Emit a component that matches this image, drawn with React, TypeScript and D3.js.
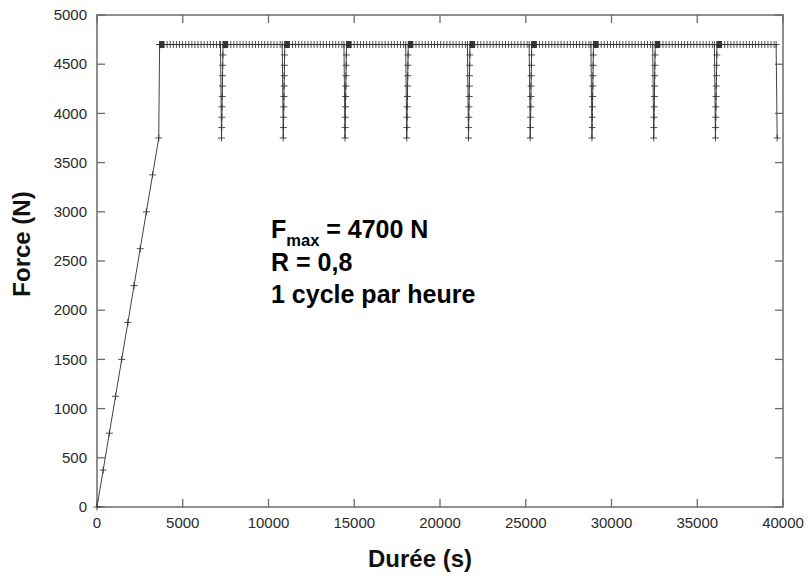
import React from "react";
import * as d3 from "d3";

// ---- data ----
const rampTimes = [0, 360, 720, 1080, 1440, 1800, 2160, 2520, 2880, 3240, 3600];
const rampForces = [0, 375, 750, 1125, 1500, 1875, 2250, 2625, 3000, 3375, 3750];
const firstHoldStart = 3650;
const unloadTimes = [7200, 10800, 14400, 18000, 21600, 25200, 28800, 32400, 36000, 39600];
const reloadForces = [3750, 3856, 3961, 4067, 4172, 4278, 4383, 4489, 4594, 4700];
const F_MAX = 4700;
const F_MIN = 3750;
const unloadDuration = 60; // s
const reloadStep = 10; // s between reload readings
const denseStep = 20; // s, dense readings just after reaching F_MAX
const denseDuration = 260; // s
const plateauStep = 180; // s, regular readings during the hold

const xTicks = [0, 5000, 10000, 15000, 20000, 25000, 30000, 35000, 40000];
const yTicks = [0, 500, 1000, 1500, 2000, 2500, 3000, 3500, 4000, 4500, 5000];

type P = [number, number];

function buildSeries(): P[] {
  const pts: P[] = [];
  rampTimes.forEach((t, i) => pts.push([t, rampForces[i]]));
  let hs = firstHoldStart;
  unloadTimes.forEach((u, idx) => {
    for (let t = hs; t < hs + denseDuration; t += denseStep) pts.push([t, F_MAX]);
    for (let t = hs + denseDuration; t < u; t += plateauStep) pts.push([t, F_MAX]);
    pts.push([u, F_MAX]);
    const bottom = u + unloadDuration;
    pts.push([bottom, F_MIN]);
    if (idx < unloadTimes.length - 1) {
      reloadForces.slice(1).forEach((f, j) => pts.push([bottom + (j + 1) * reloadStep, f]));
      hs = bottom + reloadForces.length * reloadStep;
    }
  });
  return pts;
}

const W = 811;
const H = 579;
const left = 97, right = 783, top = 15, bottom = 507;
const FONT = "'Liberation Sans', Arial, Helvetica, sans-serif";

export default function App() {
  const x = d3.scaleLinear().domain([0, 40000]).range([left, right]);
  const y = d3.scaleLinear().domain([0, 5000]).range([bottom, top]);
  const data = buildSeries();
  const line = d3
    .line<P>()
    .x((d) => x(d[0]))
    .y((d) => y(d[1]));

  const axisColor = "#6b6b6b";
  const tickLen = 8;
  const labelColor = "#2a2a2a";

  return (
    <svg
      width={W}
      height={H}
      style={{ position: "absolute", left: 0, top: 0, background: "#fff" }}
      fontFamily={FONT}
    >
      <rect x={0} y={0} width={W} height={H} fill="#fff" />
      {/* ticks */}
      <g stroke={axisColor} strokeWidth={1.3}>
        {xTicks.map((t) => (
          <g key={"xt" + t}>
            <line x1={x(t)} x2={x(t)} y1={bottom} y2={bottom - tickLen} />
            <line x1={x(t)} x2={x(t)} y1={top} y2={top + tickLen} />
          </g>
        ))}
        {yTicks.map((t) => (
          <g key={"yt" + t}>
            <line x1={left} x2={left + tickLen} y1={y(t)} y2={y(t)} />
            <line x1={right} x2={right - tickLen} y1={y(t)} y2={y(t)} />
          </g>
        ))}
      </g>
      <rect
        x={left}
        y={top}
        width={right - left}
        height={bottom - top}
        fill="none"
        stroke={axisColor}
        strokeWidth={1.5}
      />
      {/* tick labels */}
      <g fontSize={15} fill={labelColor}>
        {xTicks.map((t) => (
          <text key={"xl" + t} x={x(t)} y={528} textAnchor="middle">
            {t}
          </text>
        ))}
        {yTicks.map((t) => (
          <text key={"yl" + t} x={left - 10} y={y(t)} dy="0.35em" textAnchor="end">
            {t}
          </text>
        ))}
      </g>
      {/* data line */}
      <path d={line(data) || ""} fill="none" stroke="#444" strokeWidth={1} />
      <g stroke="#333" strokeWidth={1}>
        {data.map((d, i) => {
          const cx = x(d[0]);
          const cy = y(d[1]);
          return (
            <path
              key={i}
              d={`M${cx - 3.5},${cy}H${cx + 3.5}M${cx},${cy - 3.5}V${cy + 3.5}`}
              strokeOpacity={0.85}
            />
          );
        })}
      </g>
      {/* axis titles */}
      <text
        x={420}
        y={567}
        textAnchor="middle"
        fontSize={24}
        fontWeight="bold"
        fill="#111"
      >
        Durée (s)
      </text>
      <text
        transform="translate(30,244) rotate(-90)"
        textAnchor="middle"
        fontSize={24}
        fontWeight="bold"
        fill="#111"
      >
        Force (N)
      </text>
      {/* annotation */}
      <g fontSize={25} fontWeight="bold" fill="#000">
        <text x={271} y={238}>
          <tspan>F</tspan>
          <tspan fontSize={16.5} dy={8}>
            max
          </tspan>
          <tspan dy={-8}> = 4700 N</tspan>
        </text>
        <text x={271} y={271}>
          R = 0,8
        </text>
        <text x={271} y={303}>
          1 cycle par heure
        </text>
      </g>
    </svg>
  );
}
